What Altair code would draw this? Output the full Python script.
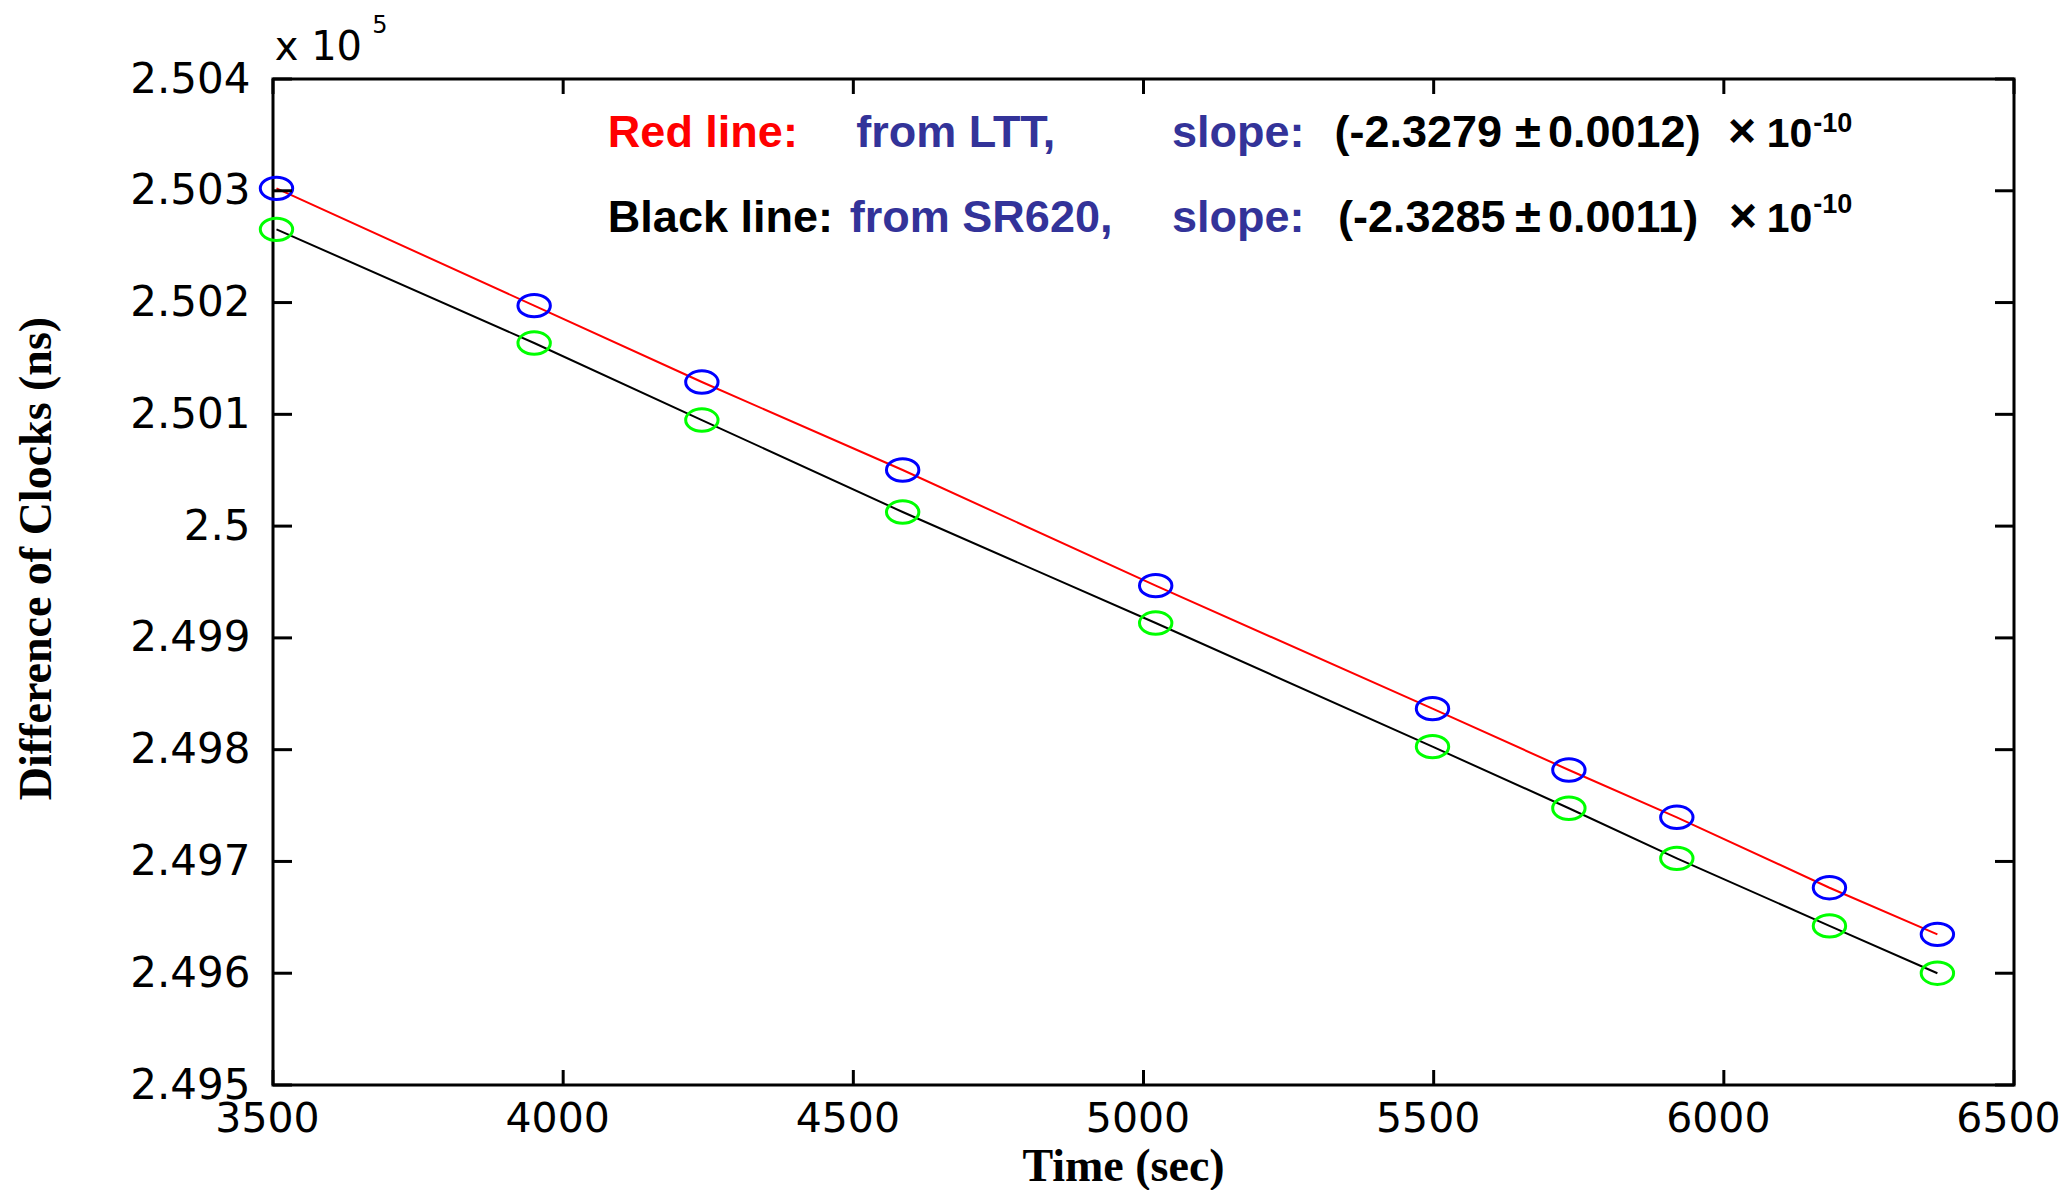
import altair as alt
import pandas as pd

# ---- data (values in units of 10^5 ns) ----
time_s = [3506, 3950, 4239, 4585, 5021, 5498, 5733, 5919, 6182, 6368]
ltt_vals = [2.503022, 2.501972, 2.501289, 2.500502, 2.499467,
            2.498367, 2.497818, 2.497395, 2.496765, 2.496348]
sr620_vals = [2.502655, 2.501638, 2.500949, 2.500126, 2.499133,
              2.498027, 2.497476, 2.497028, 2.496423, 2.496000]

x_ticks = [3500, 4000, 4500, 5000, 5500, 6000, 6500]
y_ticks = [2.495, 2.496, 2.497, 2.498, 2.499, 2.500, 2.501, 2.502, 2.503, 2.504]

# annotation texts and their anchors (data coordinates)
ann_text = ["Red line:", "from LTT,", "slope:", "(-2.3279", "\u00b1", "0.0012)", "\u00d7", "10", "-10",
            "Black line:", "from SR620,", "slope:", "(-2.3285", "\u00b1", "0.0011)", "\u00d7", "10", "-10"]
ann_t = [4077, 4505, 5049, 5329, 5640, 5697, 6007, 6074, 6154,
         4077, 4494, 5049, 5335, 5640, 5697, 6009, 6074, 6154]
ann_v = [2.503392, 2.503392, 2.503392, 2.503392, 2.503392, 2.503392, 2.503392, 2.503392, 2.503526,
         2.502631, 2.502631, 2.502631, 2.502631, 2.502631, 2.502631, 2.502631, 2.502631, 2.502801]
ann_color = ["#ff0000", "#333399", "#333399", "black", "black", "black", "black", "black", "black",
             "black", "#333399", "#333399", "black", "black", "black", "black", "black", "black"]
ann_size = [45, 45, 45, 45, 47, 45, 48, 41, 27,
            45, 45, 45, 45, 47, 45, 48, 41, 27]

exp_text = ["x 10", "5"]
exp_t = [3503, 3671]
exp_v = [2.504170, 2.504412]
exp_size = [40, 24]

W, H = 1741, 1006
TX, TY = 15, 19

xs = alt.Scale(domain=[3500, 6500], nice=False, zero=False)
ys = alt.Scale(domain=[2.495, 2.504], nice=False, zero=False)

xaxis = alt.Axis(values=x_ticks, title="Time (sec)", format="d", domain=False, ticks=False, grid=False,
                 labelFont="DejaVu Sans", labelFontSize=41, labelColor="black", labelPadding=14,
                 labelFlush=False, labelOverlap=False, labelOffset=-6,
                 titleFont="Liberation Serif", titleFontSize=46, titleFontWeight="bold",
                 titleColor="black", titleX=850, titleY=95, titleBaseline="alphabetic")
yaxis = alt.Axis(values=y_ticks, title="Difference of Clocks (ns)", format=".4~r", domain=False,
                 ticks=False, grid=False,
                 labelFont="DejaVu Sans", labelFontSize=42, labelColor="black", labelPadding=23,
                 labelFlush=False, labelOverlap=False,
                 titleFont="Liberation Serif", titleFontSize=46, titleFontWeight="bold",
                 titleColor="black", titleX=-223, titleY=479, titleBaseline="alphabetic", titleAngle=-90)

ltt_df = pd.DataFrame({"t": time_s, "v": ltt_vals})
sr_df = pd.DataFrame({"t": time_s, "v": sr620_vals})
xt_df = pd.DataFrame({"t": x_ticks})
yt_df = pd.DataFrame({"v": y_ticks})
ann_df = pd.DataFrame({"t": ann_t, "v": ann_v, "label": ann_text, "color": ann_color, "size": ann_size})
exp_df = pd.DataFrame({"t": exp_t, "v": exp_v, "label": exp_text, "size": exp_size})

X = alt.X("t:Q", scale=xs, axis=xaxis)
Y = alt.Y("v:Q", scale=ys, axis=yaxis)

ELLIPSE = "M-1,0A1,0.69,0,1,0,1,0A1,0.69,0,1,0,-1,0Z"

red_line = alt.Chart(ltt_df).mark_line(color="#ff0000", strokeWidth=2).encode(x=X, y=Y)
black_line = alt.Chart(sr_df).mark_line(color="black", strokeWidth=2).encode(x=X, y=Y)
blue_pts = alt.Chart(ltt_df).mark_point(shape=ELLIPSE, size=1050, filled=False, color="#0000ff",
                                        strokeWidth=3, opacity=1).encode(x=X, y=Y)
green_pts = alt.Chart(sr_df).mark_point(shape=ELLIPSE, size=1050, filled=False, color="#00ff00",
                                        strokeWidth=3, opacity=1).encode(x=X, y=Y)

tick_bottom = alt.Chart(xt_df).mark_rule(color="black", strokeWidth=3).encode(
    x=X, y=alt.value(H), y2=alt.value(H - TX))
tick_top = alt.Chart(xt_df).mark_rule(color="black", strokeWidth=3).encode(
    x=X, y=alt.value(0), y2=alt.value(TX))
tick_left = alt.Chart(yt_df).mark_rule(color="black", strokeWidth=3).encode(
    y=Y, x=alt.value(0), x2=alt.value(TY))
tick_right = alt.Chart(yt_df).mark_rule(color="black", strokeWidth=3).encode(
    y=Y, x=alt.value(W), x2=alt.value(W - TY))

ann = alt.Chart(ann_df).mark_text(align="left", baseline="alphabetic", font="Liberation Sans",
                                  fontWeight="bold").encode(
    x=X, y=Y, text="label:N", color=alt.Color("color:N", scale=None), size=alt.Size("size:Q", scale=None))
expo = alt.Chart(exp_df).mark_text(align="left", baseline="alphabetic", font="DejaVu Sans",
                                   color="black").encode(
    x=X, y=Y, text="label:N", size=alt.Size("size:Q", scale=None))

chart = alt.layer(red_line, black_line, blue_pts, green_pts,
                  tick_bottom, tick_top, tick_left, tick_right, ann, expo).properties(
    width=W, height=H,
    autosize=alt.AutoSizeParams(type="none"),
    padding={"left": 265, "top": 71, "right": 47, "bottom": 105},
    background="white",
).configure_view(stroke="black", strokeWidth=3)

chart.save("out.html", embed_options={"renderer": "svg", "actions": False})
